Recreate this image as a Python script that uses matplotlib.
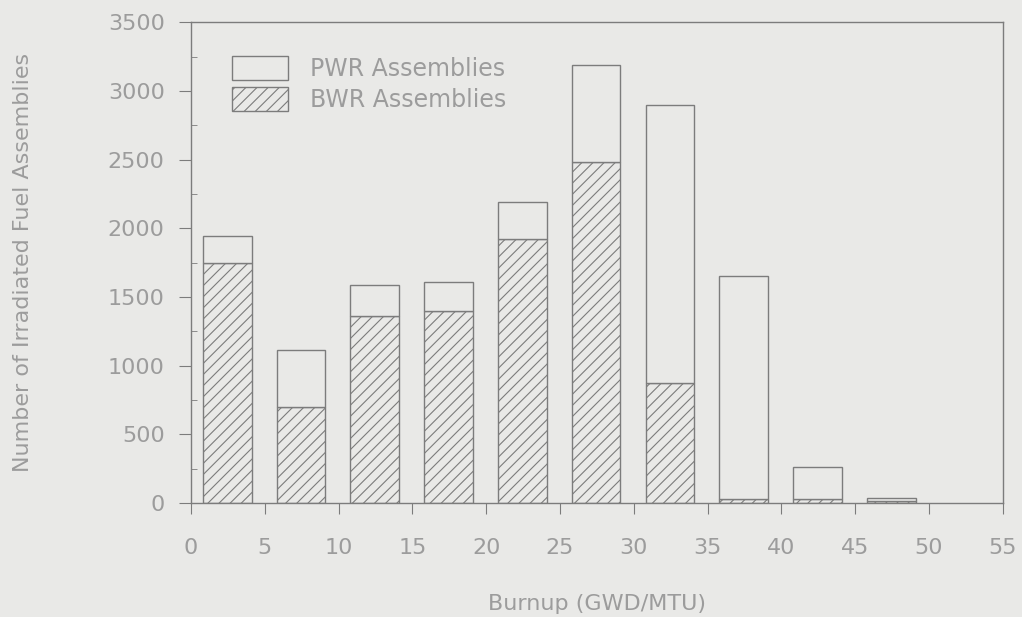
import matplotlib
matplotlib.use('Agg')
import matplotlib.pyplot as plt
import numpy as np
from matplotlib.ticker import MultipleLocator

plt.rcParams['font.family'] = ['DejaVu Sans']

# burnup bins (GWD/MTU), bar centres
burnup = [2.5, 7.5, 12.5, 17.5, 22.5, 27.5, 32.5, 37.5, 42.5, 47.5]
bwr = [1745, 695, 1360, 1395, 1920, 2480, 870, 30, 25, 12]
pwr = [195, 415, 230, 210, 270, 710, 2030, 1625, 235, 23]

bg = '#e9e9e7'
ln = '#7c7c7c'
tx = '#9c9c9c'
fs = 16

fig = plt.figure(figsize=(10.22, 6.17), dpi=100, facecolor=bg)
ax = fig.add_axes([0.187, 0.185, 0.794, 0.779], facecolor=bg)

plt.rcParams['hatch.linewidth'] = 0.8
plt.rcParams['hatch.color'] = ln

x = np.array(burnup) - 0.05
b1 = ax.bar(x, bwr, width=3.3, color=bg, edgecolor=ln, linewidth=1.0,
            hatch='///', label='BWR Assemblies')
b2 = ax.bar(x, pwr, width=3.3, bottom=bwr, color=bg, edgecolor=ln,
            linewidth=1.0, label='PWR Assemblies')

ax.set_xlim(0, 55)
ax.set_ylim(0, 3500)
ax.xaxis.set_major_locator(MultipleLocator(5))
ax.yaxis.set_major_locator(MultipleLocator(500))
ax.yaxis.set_minor_locator(MultipleLocator(250))
ax.tick_params(axis='x', direction='out', length=8, color=ln, labelcolor=tx,
               labelsize=fs, pad=17)
ax.tick_params(axis='y', which='major', direction='out', length=9, color=ln,
               labelcolor=tx, labelsize=fs, pad=10)
ax.tick_params(axis='y', which='minor', direction='in', length=4, color=ln)
for s in ax.spines.values():
    s.set_color(ln)
    s.set_linewidth(1.0)

ax.set_xlabel('Burnup (GWD/MTU)', color=tx, fontsize=fs, labelpad=26)
ax.set_ylabel('Number of Irradiated Fuel Assemblies', color=tx, fontsize=fs,
              labelpad=54)

leg = ax.legend(handles=[b2, b1], loc='upper left', bbox_to_anchor=(0.05, 0.93),
                frameon=False, fontsize=17, handlelength=2.4, handleheight=1.2,
                handletextpad=0.9, labelspacing=0.25, borderpad=0,
                borderaxespad=0)
for t in leg.get_texts():
    t.set_color(tx)

fig.savefig('out.png', dpi=100, facecolor=bg)
